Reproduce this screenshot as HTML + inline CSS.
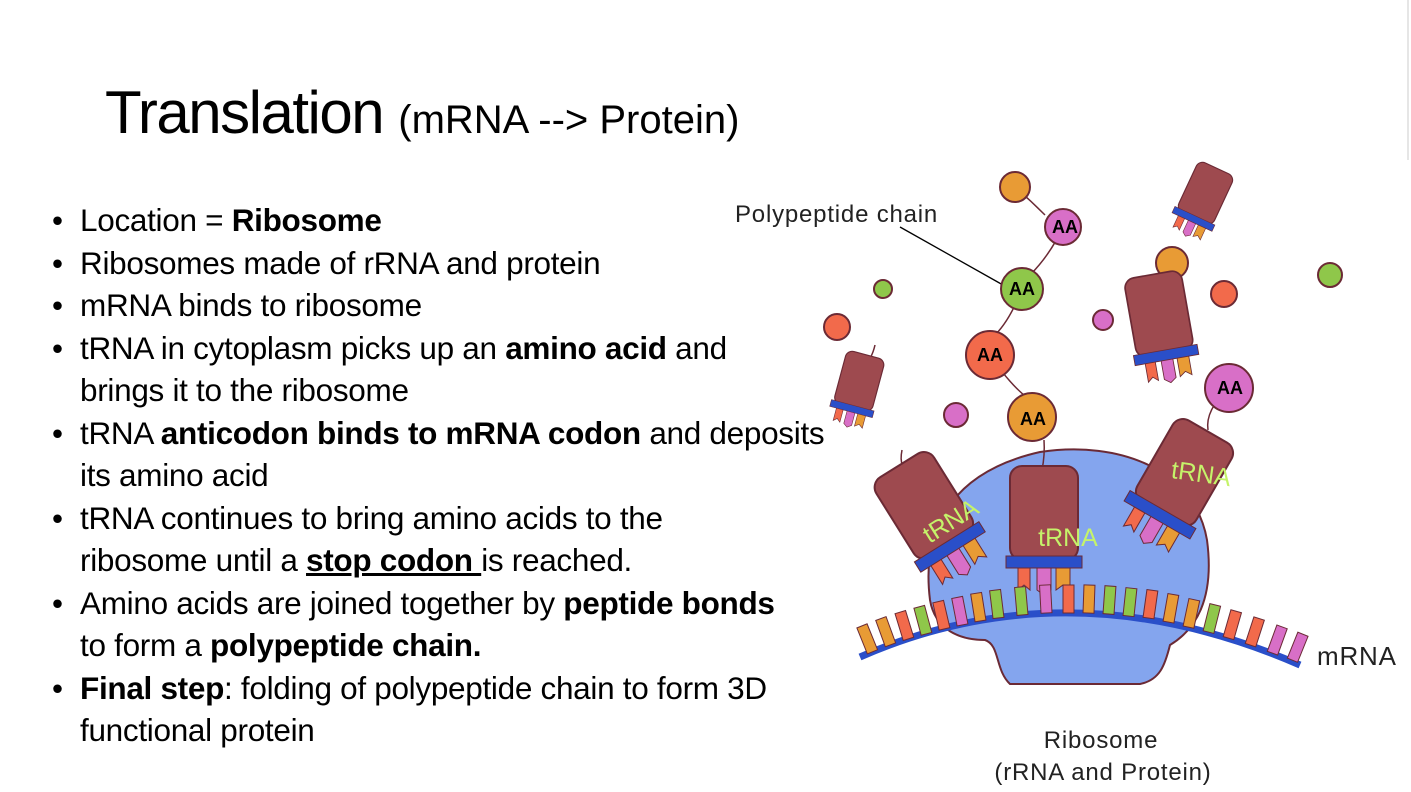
<!DOCTYPE html>
<html><head><style>
body{margin:0;width:1411px;height:792px;background:#fff;overflow:hidden;position:relative;font-family:"Liberation Sans",sans-serif;color:#000}
.t{position:absolute;left:105px;top:78px;font-size:60px;white-space:nowrap;letter-spacing:-1.5px}
.t span{font-size:40px;letter-spacing:0}
ul{position:absolute;left:50px;top:199px;margin:0;padding:0;list-style:none;font-size:31.5px;line-height:42.5px;letter-spacing:-0.3px}
li{position:relative;padding-left:30px;white-space:nowrap}
li:before{content:"•";position:absolute;left:2px}
svg{position:absolute;left:0;top:0}
</style></head><body>
<div class="t">Translation <span>(mRNA --&gt; Protein)</span></div>
<ul>
<li>Location = <b>Ribosome</b></li>
<li>Ribosomes made of rRNA and protein</li>
<li>mRNA binds to ribosome</li>
<li>tRNA in cytoplasm picks up an <b>amino acid</b> and<br>brings it to the ribosome</li>
<li>tRNA <b>anticodon binds to mRNA codon</b> and deposits<br>its amino acid</li>
<li>tRNA continues to bring amino acids to the<br>ribosome until a <b><u>stop codon </u></b>is reached.</li>
<li>Amino acids are joined together by <b>peptide bonds</b><br>to form a <b>polypeptide chain.</b></li>
<li><b>Final step</b>: folding of polypeptide chain to form 3D<br>functional protein</li>
</ul>
<svg width="1411" height="792" viewBox="0 0 1411 792">
<defs>
<g id="tr">
<path d="M-26,-8 v30 l6,-5 l6,5 v-30z" fill="#f26a4b" stroke="#6b2a35" stroke-width="1"/>
<path d="M-7,-8 v30 l7,5 l7,-5 v-30z" fill="#d86fc7" stroke="#6b2a35" stroke-width="1"/>
<path d="M12,-8 v30 l7,-5 l7,5 v-30z" fill="#e89b35" stroke="#6b2a35" stroke-width="1"/>
<rect x="-34" y="-102" width="68" height="94" rx="12" fill="#9e4a4f" stroke="#6b2a35" stroke-width="2"/>
<rect x="-38" y="-12" width="76" height="12" fill="#2a4fc9" stroke="#6b2a35" stroke-width="1"/>
</g>
</defs>
<line x1="1408" y1="0" x2="1408" y2="160" stroke="#ccc"/>
<path d="M930,600 C920,520 960,470 1040,452 C1120,440 1195,470 1207,540 C1215,600 1195,630 1170,645 C1165,665 1160,680 1140,684 L1010,684 C995,670 1000,645 985,640 C960,640 935,630 930,600Z" fill="#84a5ee" stroke="#6b2a35" stroke-width="2"/>
<g fill="none" stroke="#6b2a35" stroke-width="1.5">
<path d="M1015,187 Q1030,200 1045,215"/><path d="M1063,227 Q1050,255 1030,275"/><path d="M1022,289 Q1010,320 995,335"/><path d="M990,355 Q1010,385 1030,400"/><path d="M1044,440 Q1045,455 1042,470"/>
<path d="M1229,388 Q1205,410 1208,430"/><path d="M1172,263 Q1170,285 1178,297"/>
<path d="M902,450 Q898,470 912,470"/><path d="M875,345 Q872,358 865,365"/><path d="M1228,175 Q1222,185 1220,190"/>
</g>
<line x1="900" y1="227" x2="1003" y2="285" stroke="#000" stroke-width="1.3"/>
<g stroke="#6b2a35" stroke-width="2">
<circle cx="1015" cy="187" r="15" fill="#e89b35"/>
<circle cx="1063" cy="227" r="18" fill="#d86fc7"/>
<circle cx="1022" cy="289" r="21" fill="#8fc74a"/>
<circle cx="990" cy="355" r="24" fill="#f26a4b"/>
<circle cx="1032" cy="417" r="24" fill="#e89b35"/>
<circle cx="883" cy="289" r="9" fill="#8fc74a"/>
<circle cx="837" cy="327" r="13" fill="#f26a4b"/>
<circle cx="956" cy="415" r="12" fill="#d86fc7"/>
<circle cx="1103" cy="320" r="10" fill="#d86fc7"/>
<circle cx="1172" cy="263" r="16" fill="#e89b35"/>
<circle cx="1224" cy="294" r="13" fill="#f26a4b"/>
<circle cx="1330" cy="275" r="12" fill="#8fc74a"/>
<circle cx="1229" cy="388" r="24" fill="#d86fc7"/>
</g>
<g font-weight="bold" font-size="18" text-anchor="middle">
<text x="1065" y="233">AA</text><text x="1022" y="295">AA</text><text x="990" y="361">AA</text><text x="1033" y="425">AA</text><text x="1230" y="394">AA</text>
</g>
<use href="#tr" transform="translate(851,412) rotate(15) scale(0.58)"/>
<use href="#tr" transform="translate(1192,222) rotate(25) scale(0.58)"/>
<use href="#tr" transform="translate(1167,360) rotate(-10) scale(0.85)"/>
<use href="#tr" transform="translate(953,552) rotate(-32)"/>
<use href="#tr" transform="translate(1044,568)"/>
<use href="#tr" transform="translate(1157,520) rotate(30)"/>
<g fill="#c5f36a" font-size="25" text-anchor="middle">
<text transform="translate(955,528) rotate(-32)">tRNA</text>
<text x="1068" y="546">tRNA</text>
<text transform="translate(1200,482) rotate(8)">tRNA</text>
</g>
<path d="M860,657 Q1070,565 1300,665" fill="none" stroke="#2a4fc9" stroke-width="7"/>
<g stroke="#6b2a35" stroke-width="1">
<rect x="-5" y="-28" width="11" height="28" fill="#e89b35" transform="translate(872,652) rotate(-22)"/>
<rect x="-5" y="-28" width="11" height="28" fill="#e89b35" transform="translate(890,645) rotate(-20)"/>
<rect x="-5" y="-28" width="11" height="28" fill="#f26a4b" transform="translate(908,639) rotate(-17)"/>
<rect x="-5" y="-28" width="11" height="28" fill="#8fc74a" transform="translate(926,634) rotate(-15)"/>
<rect x="-5" y="-28" width="11" height="28" fill="#f26a4b" transform="translate(944,629) rotate(-13)"/>
<rect x="-5" y="-28" width="11" height="28" fill="#d86fc7" transform="translate(962,625) rotate(-11)"/>
<rect x="-5" y="-28" width="11" height="28" fill="#e89b35" transform="translate(980,621) rotate(-9)"/>
<rect x="-5" y="-28" width="11" height="28" fill="#8fc74a" transform="translate(998,618) rotate(-7)"/>
<rect x="-5" y="-28" width="11" height="28" fill="#8fc74a" transform="translate(1022,615) rotate(-5)"/>
<rect x="-5" y="-28" width="11" height="28" fill="#d86fc7" transform="translate(1046,613) rotate(-3)"/>
<rect x="-5" y="-28" width="11" height="28" fill="#f26a4b" transform="translate(1068,613) rotate(0)"/>
<rect x="-5" y="-28" width="11" height="28" fill="#e89b35" transform="translate(1088,613) rotate(2)"/>
<rect x="-5" y="-28" width="11" height="28" fill="#8fc74a" transform="translate(1108,614) rotate(4)"/>
<rect x="-5" y="-28" width="11" height="28" fill="#8fc74a" transform="translate(1128,616) rotate(6)"/>
<rect x="-5" y="-28" width="11" height="28" fill="#f26a4b" transform="translate(1148,618) rotate(8)"/>
<rect x="-5" y="-28" width="11" height="28" fill="#e89b35" transform="translate(1168,622) rotate(10)"/>
<rect x="-5" y="-28" width="11" height="28" fill="#e89b35" transform="translate(1188,627) rotate(12)"/>
<rect x="-5" y="-28" width="11" height="28" fill="#8fc74a" transform="translate(1208,632) rotate(14)"/>
<rect x="-5" y="-28" width="11" height="28" fill="#f26a4b" transform="translate(1228,638) rotate(16)"/>
<rect x="-5" y="-28" width="11" height="28" fill="#f26a4b" transform="translate(1250,645) rotate(18)"/>
<rect x="-5" y="-28" width="11" height="28" fill="#d86fc7" transform="translate(1272,653) rotate(20)"/>
<rect x="-5" y="-28" width="11" height="28" fill="#d86fc7" transform="translate(1292,660) rotate(22)"/>
</g>
<g font-size="24" fill="#222" letter-spacing="0.8">
<text x="735" y="222">Polypeptide chain</text>
<text x="1317" y="665" font-size="26">mRNA</text>
<text x="1101" y="748" text-anchor="middle">Ribosome</text>
<text x="1103" y="780" text-anchor="middle">(rRNA and Protein)</text>
</g>
</svg>
</body></html>
